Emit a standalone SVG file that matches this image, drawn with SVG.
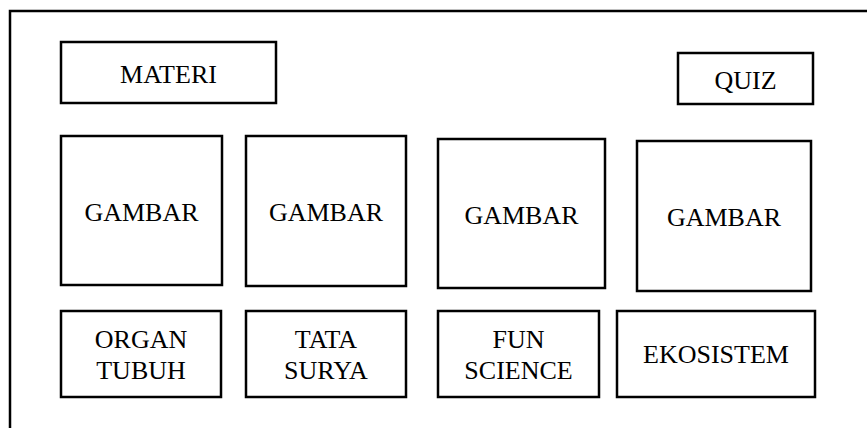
<svg xmlns="http://www.w3.org/2000/svg" width="867" height="428" viewBox="0 0 867 428">
  <style>
    .box { fill: #ffffff; stroke: #000000; stroke-width: 2.5; }
    .frame { fill: none; stroke: #000000; stroke-width: 2.5; }
    .lbl { font-family: "Liberation Serif", "Times New Roman", serif; font-size: 26px; fill: #000000; text-anchor: middle; }
  </style>
  <rect x="0" y="0" width="867" height="428" fill="#ffffff"/>

  <!-- page frame: top and left edges -->
  <g id="frame">
    <path class="frame" d="M10,428 L10,11 L867,11"/>
  </g>

  <g id="connectors"></g>

  <!-- header buttons -->
  <g id="materi">
    <rect class="box" x="61" y="42" width="215" height="61"/>
    <text class="lbl" x="168.5" y="83">MATERI</text>
  </g>
  <g id="quiz">
    <rect class="box" x="678" y="53" width="135" height="51"/>
    <text class="lbl" x="745.5" y="89">QUIZ</text>
  </g>

  <!-- picture placeholders -->
  <g id="gambar1">
    <rect class="box" x="61" y="136" width="161" height="149"/>
    <text class="lbl" x="141.5" y="221">GAMBAR</text>
  </g>
  <g id="gambar2">
    <rect class="box" x="246" y="136" width="160" height="150"/>
    <text class="lbl" x="326" y="221">GAMBAR</text>
  </g>
  <g id="gambar3">
    <rect class="box" x="438" y="139" width="167" height="149"/>
    <text class="lbl" x="521.5" y="224">GAMBAR</text>
  </g>
  <g id="gambar4">
    <rect class="box" x="637" y="141" width="174" height="150"/>
    <text class="lbl" x="724" y="226">GAMBAR</text>
  </g>

  <!-- topic buttons -->
  <g id="organ-tubuh">
    <rect class="box" x="61" y="311" width="160" height="86"/>
    <text class="lbl" x="141" y="348">ORGAN</text>
    <text class="lbl" x="141" y="379">TUBUH</text>
  </g>
  <g id="tata-surya">
    <rect class="box" x="246" y="311" width="160" height="86"/>
    <text class="lbl" x="326" y="348">TATA</text>
    <text class="lbl" x="326" y="379">SURYA</text>
  </g>
  <g id="fun-science">
    <rect class="box" x="438" y="311" width="161" height="86"/>
    <text class="lbl" x="518.5" y="348">FUN</text>
    <text class="lbl" x="518.5" y="379">SCIENCE</text>
  </g>
  <g id="ekosistem">
    <rect class="box" x="617" y="311" width="198" height="86"/>
    <text class="lbl" x="716" y="363">EKOSISTEM</text>
  </g>
</svg>
